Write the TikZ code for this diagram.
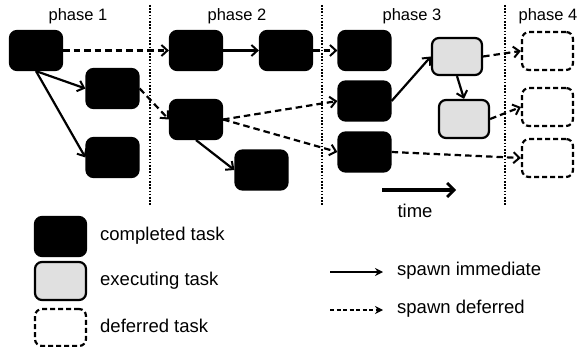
\documentclass[tikz,border=0pt]{standalone}
\usepackage{fontspec}
\setmainfont{Liberation Sans}
\usetikzlibrary{arrows.meta,shadows}

\tikzset{
  task/.style={rounded corners=7pt, minimum width=52pt, minimum height=39pt,
    inner sep=0pt, line width=2.2pt},
  done/.style={task, draw=black, fill=black,
    drop shadow={shadow xshift=0.8pt, shadow yshift=-1pt, opacity=0.2}},
  running/.style={task, draw=black, fill=black!12,
    drop shadow={shadow xshift=0.8pt, shadow yshift=-1pt, opacity=0.2}},
  waiting/.style={task, draw=black, dash pattern=on 5pt off 3pt},
  barb/.style={-{Straight Barb[length=6pt,width=11pt,line width=2pt]}},
  immediate/.style={barb, line width=2.2pt},
  deferred/.style={barb, line width=2.2pt, dash pattern=on 6.5pt off 4pt},
  keyimm/.style={-{Stealth[length=8pt,width=8pt]}, line width=2.2pt},
  keydef/.style={-{Stealth[length=8pt,width=8pt]}, line width=2.2pt, dash pattern=on 4pt off 2.5pt},
  divider/.style={line width=2.2pt, dash pattern=on 1.6pt off 1.6pt},
  phaselbl/.style={font=\fontsize{16.5}{19}\selectfont},
  keylbl/.style={font=\fontsize{18.5}{21}\selectfont, anchor=west, inner sep=0pt},
}

\begin{document}
\begin{tikzpicture}[x=1pt, y=-1pt]
  \useasboundingbox (0,0) rectangle (580,347);

  % phase dividers
  \coordinate (d1t) at (150,5);   \coordinate (d1b) at (150,206);
  \coordinate (d2t) at (322,5);   \coordinate (d2b) at (322,206);
  \coordinate (d3t) at (505,5);   \coordinate (d3b) at (505,206);
  \draw[divider] (d1t) -- (d1b);
  \draw[divider] (d2t) -- (d2b);
  \draw[divider] (d3t) -- (d3b);

  % phase headings
  \node[phaselbl] (p1) at (78,16)  {phase 1};
  \node[phaselbl] (p2) at (237,16) {phase 2};
  \node[phaselbl] (p3) at (412,16) {phase 3};
  \node[phaselbl] (p4) at (548,16) {phase 4};

  % tasks
  \node[done] (A) at (36,50.5)    {};
  \node[done] (B) at (112.5,88.5) {};
  \node[done] (C) at (112.5,157.5){};
  \node[done] (D) at (196,50.5)   {};
  \node[done] (E) at (286,50.5)   {};
  \node[done] (F) at (196,119.5)  {};
  \node[done] (G) at (261.5,170)  {};
  \node[done] (H) at (364.5,50.5) {};
  \node[done] (I) at (364.5,101)  {};
  \node[done] (J) at (364.5,152)  {};
  \node[running, minimum width=50pt, minimum height=37pt] (K) at (457,56.5) {};
  \node[running, minimum width=50pt, minimum height=38pt] (L) at (464,119) {};
  \node[waiting, minimum width=51pt, minimum height=38pt] (M) at (547.5,51)  {};
  \node[waiting, minimum width=51pt, minimum height=38pt] (N) at (547.5,107) {};
  \node[waiting, minimum width=51pt, minimum height=38pt] (O) at (547.5,158) {};

  % spawn edges
  \draw[immediate] (A.south) -- (B.west);
  \draw[immediate] (A.south) -- (C.west);
  \draw[deferred]  (A.east) -- (D.west);
  \draw[immediate] (D.east) -- (E.west);
  \draw[deferred]  (E.east) -- (H.west);
  \draw[deferred]  (B.east) -- (F.west);
  \draw[deferred]  (F.east) -- (I.west);
  \draw[deferred]  (F.east) -- (J.west);
  \draw[immediate] (F.south) -- (G.west);
  \draw[immediate] (I.east) -- (K.west);
  \draw[immediate] (K.south) -- (L.north);
  \draw[deferred]  (K.east) -- (M.west);
  \draw[deferred]  (L.east) -- (N.west);
  \draw[deferred]  (J.east) -- (O.west);

  % time axis
  \coordinate (t0) at (382,190);
  \coordinate (t1) at (456,190);
  \draw[line width=3.4pt, -{Straight Barb[length=7pt,width=14pt,line width=2.8pt]}] (t0) -- (t1);
  \node[keylbl, anchor=center] (tl) at (415,211) {time};

  % legend: task states
  \node[done, minimum width=51pt] (k1) at (60.5,236.5) {};
  \node[running, minimum width=51pt, minimum height=38pt] (k2) at (60.5,281) {};
  \node[waiting, minimum width=51pt, minimum height=37pt] (k3) at (60.5,327.5) {};
  \node[keylbl] (k1t) at (100,236) {completed task};
  \node[keylbl] (k2t) at (100,281) {executing task};
  \node[keylbl] (k3t) at (100,326) {deferred task};

  % legend: edge kinds
  \coordinate (e1a) at (330,272); \coordinate (e1b) at (383,272);
  \coordinate (e2a) at (330,310); \coordinate (e2b) at (383,310);
  \draw[keyimm] (e1a) -- (e1b);
  \draw[keydef] (e2a) -- (e2b);
  \node[keylbl] (e1t) at (397,271) {spawn immediate};
  \node[keylbl] (e2t) at (397,309) {spawn deferred};
\end{tikzpicture}
\end{document}
